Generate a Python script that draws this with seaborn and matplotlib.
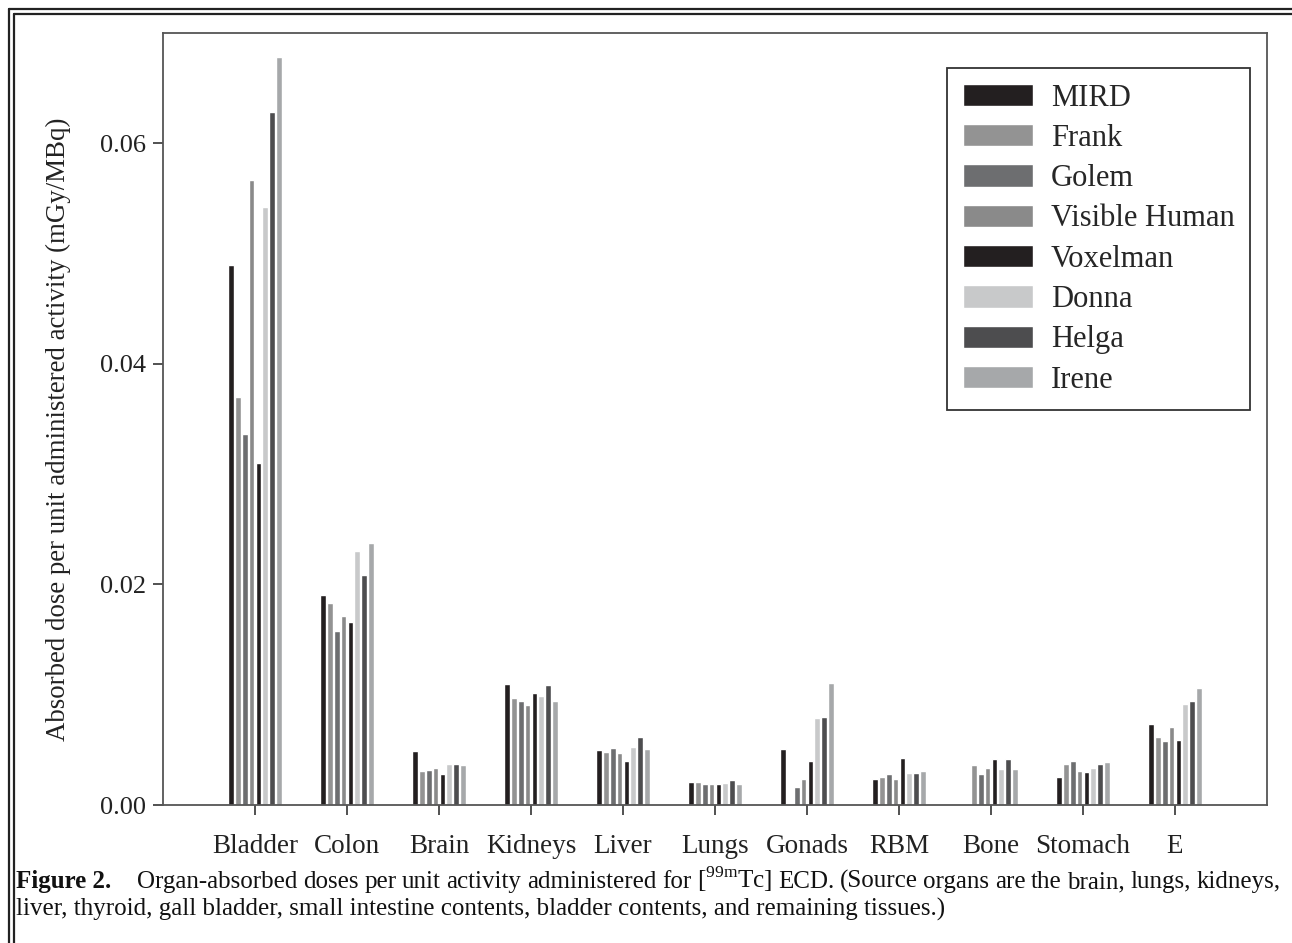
import numpy as np
import pandas as pd
import matplotlib
matplotlib.use("Agg")
import matplotlib.pyplot as plt
from matplotlib.lines import Line2D
import seaborn as sns

# organs on the x axis
organs = ["Bladder", "Colon", "Brain", "Kidneys", "Liver", "Lungs",
          "Gonads", "RBM", "Bone", "Stomach", "E"]
phantoms = ["MIRD", "Frank", "Golem", "Visible Human", "Voxelman",
            "Donna", "Helga", "Irene"]

# absorbed dose (mGy/MBq); nan = no bar
mird = [0.0490, 0.0190, 0.0049, 0.0110, 0.0050, 0.0021, 0.0051, 0.0024, np.nan, 0.0025, 0.0073]
frank = [0.0370, 0.0183, 0.0031, 0.0097, 0.0048, 0.0021, np.nan, 0.0025, 0.0036, 0.0037, 0.0062]
golem = [0.0336, 0.0158, 0.0032, 0.0094, 0.0052, 0.0019, 0.0016, 0.0028, 0.0028, 0.0040, 0.0058]
visible_human = [0.0567, 0.0171, 0.0034, 0.0091, 0.0047, 0.0019, 0.0024, 0.0024, 0.0034, 0.0031, 0.0071]
voxelman = [0.0310, 0.0166, 0.0028, 0.0102, 0.0040, 0.0019, 0.0040, 0.0043, 0.0042, 0.0030, 0.0059]
donna = [0.0542, 0.0230, 0.0037, 0.0099, 0.0053, 0.0020, 0.0079, 0.0029, 0.0033, 0.0034, 0.0092]
helga = [0.0628, 0.0209, 0.0037, 0.0109, 0.0062, 0.0023, 0.0080, 0.0029, 0.0042, 0.0037, 0.0094]
irene = [0.0678, 0.0238, 0.0036, 0.0094, 0.0051, 0.0019, 0.0111, 0.0031, 0.0033, 0.0039, 0.0106]

y_ticks = [0.00, 0.02, 0.04, 0.06]

colores = ["#231f20", "#939393", "#6d6e70", "#8a8a8a", "#231f20",
           "#c8c9ca", "#4d4d4f", "#a6a8aa"]

series = [mird, frank, golem, visible_human, voxelman, donna, helga, irene]
df = pd.DataFrame({
    "organ": np.tile(organs, len(phantoms)),
    "phantom": np.repeat(phantoms, len(organs)),
    "dose": np.concatenate(series),
})

sns.set_style("white")
plt.rcParams["font.family"] = ["Liberation Serif", "DejaVu Serif"]
plt.rcParams["mathtext.fontset"] = "custom"
plt.rcParams["mathtext.rm"] = "Liberation Serif"

W, H = 1292, 943
fig = plt.figure(figsize=(W / 100, H / 100), dpi=100)
ax = fig.add_axes([163 / W, 1 - 805 / H, 1104 / W, 772 / H])

sns.barplot(data=df, x="organ", y="dose", hue="phantom", order=organs,
            hue_order=phantoms, palette=colores, saturation=1, width=0.6,
            gap=0.15, errorbar=None, ax=ax)

ax.set_xlim(-1, len(organs))
ax.set_ylim(0, 0.0700)
ax.set_yticks(y_ticks)
ax.set_yticklabels([f"{v:.2f}" for v in y_ticks])
ax.tick_params(axis="both", direction="out", length=7.2, width=1.2,
               color="#333333", labelcolor="#222222")
ax.tick_params(axis="y", left=True, labelsize=19, pad=5)
ax.tick_params(axis="x", bottom=True, labelsize=19.5, pad=14)
ax.set_xlabel("")
ax.set_ylabel("Absorbed dose per unit administered activity (mGy/MBq)",
              fontsize=19.4, color="#222222")
ax.yaxis.set_label_coords(-0.083, 0.486)
for s in ax.spines.values():
    s.set_color("#555555")
    s.set_linewidth(1.3)

leg = ax.legend(loc="upper right", bbox_to_anchor=(0.9846, 0.9547), fontsize=22,
                frameon=True, fancybox=False, edgecolor="#333333", framealpha=1,
                handlelength=2.29, handleheight=0.75, labelspacing=0.37,
                borderpad=0.51, handletextpad=0.59, borderaxespad=0)
leg.get_frame().set_linewidth(1.3)

# double frame around the figure
for off in (9, 14):
    fig.add_artist(Line2D([off / W, off / W], [0, 1 - off / H], color="#222222", lw=1.6))
    fig.add_artist(Line2D([off / W, 1], [1 - off / H, 1 - off / H], color="#222222", lw=1.6))

# caption, first line justified to the right edge
cap_size = 18
renderer = fig.canvas.get_renderer()
fig_lbl = fig.text(16 / W, 1 - 888 / H, "Figure 2.", fontsize=cap_size,
                   fontweight="bold", color="#111111")
words = (r"Organ-absorbed doses per unit activity administered for "
         r"[$^{\mathrm{99m}}$Tc] ECD. (Source organs are the brain, lungs, kidneys,").split(" ")
pieces = [fig.text(0, 1 - 888 / H, w, fontsize=cap_size, color="#111111") for w in words]
widths = [p.get_window_extent(renderer).width for p in pieces]
x0 = fig_lbl.get_window_extent(renderer).x1 + 26
x1 = 1281
space = (x1 - x0 - sum(widths)) / (len(words) - 1)
x = x0
for p, w in zip(pieces, widths):
    p.set_x(x / W)
    x += w + space
fig.text(16 / W, 1 - 916 / H,
         "liver, thyroid, gall bladder, small intestine contents, bladder contents, and remaining tissues.)",
         fontsize=cap_size, color="#111111")

fig.savefig("out.png", dpi=100)
